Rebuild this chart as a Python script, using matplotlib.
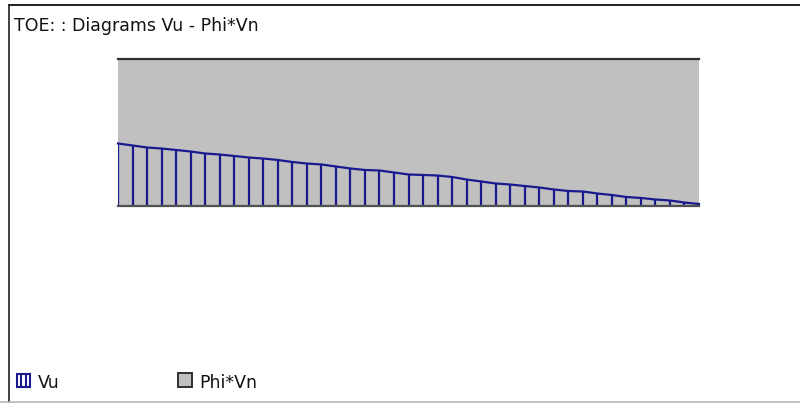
import matplotlib
matplotlib.use("Agg")
import matplotlib.pyplot as plt
from matplotlib.patches import Rectangle
from matplotlib.lines import Line2D

plt.rcParams['font.family'] = ['DejaVu Sans']

# Stations along the toe and shear values
stations = list(range(41))
vu = [12.70, 12.29, 11.88, 11.67, 11.37, 11.06, 10.65, 10.44, 10.14, 9.83,
      9.62, 9.32, 8.91, 8.60, 8.40, 7.99, 7.58, 7.27, 7.17, 6.76,
      6.35, 6.25, 6.14, 5.84, 5.32, 4.92, 4.51, 4.30, 3.99, 3.69,
      3.28, 2.97, 2.87, 2.46, 2.15, 1.74, 1.54, 1.23, 1.02, 0.61, 0.31]
phi_vn = [30.0] * len(stations)

title = "TOE: : Diagrams Vu - Phi*Vn"
legend_labels = ["Vu", "Phi*Vn"]

W, H = 800, 403
fig = plt.figure(figsize=(W / 100, H / 100), dpi=100)
fig.patch.set_facecolor("white")

BLUE = "#1a1a90"
GRAY = "#c0c0c0"
FS = 12.5

ax = fig.add_axes([118 / W, 1 - 205.5 / H, (699 - 118) / W, (205.5 - 59) / H])
ax.set_xlim(stations[0], stations[-1])
ax.set_ylim(0, max(phi_vn))
ax.axis("off")

# Phi*Vn capacity area
ax.fill_between(stations, 0, phi_vn, color=GRAY, lw=0, zorder=1)
ax.plot(stations, phi_vn, color="#303030", lw=1.6, zorder=2, clip_on=False)
ax.plot([stations[0], stations[-1]], [0, 0], color="#505050", lw=1.6,
        zorder=4, clip_on=False)

# Vu diagram: outline plus drop lines at each station
ax.plot(stations, vu, color=BLUE, lw=1.6, zorder=3, clip_on=False,
        solid_joinstyle="miter")
ax.vlines(stations, 0, vu, color=BLUE, lw=1.6, zorder=3)

# Frame around the panel
fig.add_artist(Line2D([8.5 / W, 8.5 / W], [0, 1 - 5 / H], transform=fig.transFigure,
                      color="#202020", lw=1.2))
fig.add_artist(Line2D([8.5 / W, 1], [1 - 5 / H, 1 - 5 / H], transform=fig.transFigure,
                      color="#202020", lw=1.4))
fig.add_artist(Line2D([0, 1], [0.6 / H, 0.6 / H], transform=fig.transFigure,
                      color="#b8b8b8", lw=1.2))

fig.text(14 / W, 1 - 31 / H, title, fontsize=FS, color="#111111",
         ha="left", va="baseline")

# Legend
def px(x, y):
    return x / W, 1 - y / H

x0, y0 = px(16.5, 386.5)
fig.add_artist(Rectangle((x0, y0), 13 / W, 13 / H, transform=fig.transFigure,
                         facecolor="white", edgecolor=BLUE, lw=1.5))
for xi in (21, 25.5):
    fig.add_artist(Line2D([xi / W, xi / W], [y0, y0 + 13 / H],
                          transform=fig.transFigure, color=BLUE, lw=1.5))
fig.text(38 / W, 1 - 388 / H, legend_labels[0], fontsize=FS, color="#111111",
         ha="left", va="baseline")

x1, y1 = px(178, 386.5)
fig.add_artist(Rectangle((x1, y1), 14 / W, 14 / H, transform=fig.transFigure,
                         facecolor=GRAY, edgecolor="#303030", lw=1.4))
fig.text(199 / W, 1 - 388 / H, legend_labels[1], fontsize=FS, color="#111111",
         ha="left", va="baseline")

fig.savefig("out.png", dpi=100, facecolor="white")
